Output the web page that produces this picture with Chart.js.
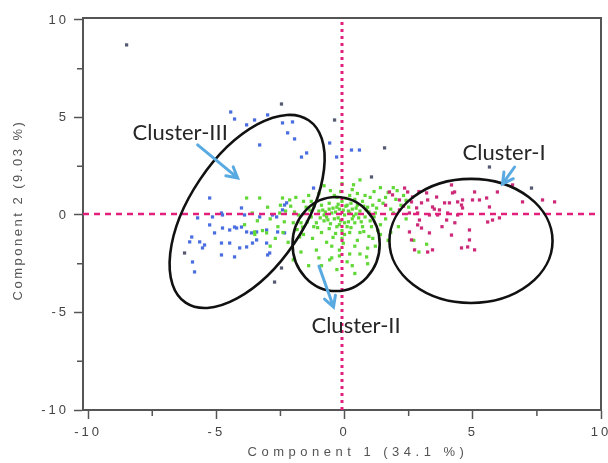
<!DOCTYPE html>
<html>
<head>
<meta charset="utf-8">
<script src="https://cdn.jsdelivr.net/npm/chart.js@4.4.1/dist/chart.umd.min.js"></script>
<style>
  body { margin: 0; background: #fff; }
</style>
</head>
<body>
<canvas id="pcaChart" width="608" height="463"></canvas>
<script>
// =========================
// DATA
// =========================
const xTicks = [-10, -5, 0, 5, 10];
const yTicks = [-10, -5, 0, 5, 10];
const minorTicks = [-7.5, -2.5, 2.5, 7.5];

const xTitle = "Component 1 (34.1 %)";
const yTitle = "Component 2 (9.03 %)";

// dashed reference lines
const refX = -0.1;
const refY = 0.05;

// Cluster-I (magenta)
const cluster1 = [
  [2.34,1.38],[2.46,1.18],[1.87,1.03],[2.14,0.77],[2.61,0.67],[2.81,0.36],[3.00,0.62],[3.24,0.77],[3.43,0.41],[3.70,0.26],
  [3.63,0.0],[3.90,0.62],[4.17,1.54],[4.29,1.18],[4.41,0.67],[4.56,0.51],[4.60,0.77],[4.99,0.77],[5.54,0.87],[5.65,0.41],
  [5.58,-0.36],[5.96,1.18],[6.04,-0.15],[4.41,0.0],[3.98,-0.26],[2.92,-0.26],[2.85,-0.51],[3.00,-0.67],[2.53,-0.87],[3.31,-0.92],
  [2.61,-1.28],[4.17,-1.03],[4.87,-0.77],[4.56,-1.69],[4.87,-1.28],[4.80,-1.64],[5.07,-1.79],[3.43,-1.79],[3.24,-1.90],[2.73,-1.79],
  [6.55,1.54],[6.94,0.67],[7.72,0.77],[8.19,0.67],[5.07,1.18],[5.26,0.77],[4.60,0.36],[4.09,0.62],[4.21,1.13],[3.59,0.92],
  [3.20,1.13],[2.65,0.92],[2.85,0.10],[2.53,0.10],[2.14,0.26],[3.31,0.0],[4.02,0.10],[5.77,-0.26],
  [1.75,1.18],[1.6,0.5],[2.3,0.45],[2.9,1.2],[3.5,0.3],[3.8,-0.6],[4.3,-0.4]
];

// Cluster-II (green)
const cluster2 = [
  [-0.2,0.3],[0.1,0.5],[-0.5,0.1],[0.3,-0.2],[-0.8,-0.3],[0.6,0.2],[-0.3,-0.6],[0.2,-0.9],[-1.0,0.2],[0.9,0.4],
  [-0.6,0.6],[0.4,0.8],[-1.3,-0.1],[1.2,0.1],[-0.1,-1.2],[0.7,-0.6],[-0.9,-0.9],[1.0,-0.3],[-1.5,0.4],[1.5,0.6],
  [-0.4,1.0],[0.0,0.0],[0.5,-1.3],[-0.7,-1.4],[-1.2,-0.6],[1.3,-0.8],[-1.8,0.0],[1.8,0.3],[-0.2,-1.8],[0.3,1.3],
  [-1.0,1.1],[0.8,1.0],[-2.0,-0.4],[2.0,0.8],[-1.6,-1.0],[1.6,-0.2],[-0.5,-2.2],[0.1,-2.4],[-1.1,-1.8],[0.9,-1.7],
  [-2.3,0.2],[2.3,1.0],[-2.6,-0.6],[2.5,0.4],[-2.9,-0.2],[-3.2,-0.8],[-3.6,0.1],[-3.9,-0.5],[-2.7,-1.2],[-2.2,-1.4],
  [1.4,1.4],[-0.1,1.6],[0.6,1.8],[-0.8,1.5],[2.1,-0.6],[1.1,-1.2],[-0.3,-2.8],[0.4,-3.0],[-1.4,-2.6],[0.0,-0.4],
  [-0.1,0.7],[0.2,0.1],[-0.4,-0.2],[0.5,0.5],[-0.7,-0.1],[0.8,-0.1],[-0.2,-0.5],[0.1,-0.6],[-0.6,0.3],[0.3,0.3],
  [-1.1,-0.4],[1.1,0.5],[-0.9,0.5],[0.6,-0.9],[-0.3,0.4],[0.0,-1.0],[-1.3,0.7],[1.0,0.9],[-0.5,-1.6],[0.4,-1.6],
  [2.7,-1.3],[3.2,-1.5],[2.9,-1.9],[-1.9,0.9],[-2.5,0.5],[-3.0,0.4],[-3.4,-0.3],[-1.7,-1.9],[-2.0,-2.3],[1.7,-1.3],
  [1.9,1.4],[2.4,-0.2],[-2.4,-0.9],[-1.4,1.0],[0.2,1.0],[-0.8,0.0],[0.7,0.7],[-0.1,-0.8],[1.4,-0.5],[-1.7,-0.4],
  [-0.6,-0.7],[0.4,-0.4],[-0.3,0.9],[1.2,-1.6],[-1.0,-2.2],[0.2,-2.0],[-2.9,-1.6],[-3.5,-1.0],[0.9,-2.5],
  [-3.82,0.87],[-3.31,0.87],[-2.42,0.87],[-3.51,-0.87],[-3.04,-0.92],[-2.53,0.10],[-2.14,0.77],[-1.95,0.15],[-1.75,-1.13],[-1.64,-0.62],
  [0.15,0.2],[-0.35,0.15],[0.45,0.05],[-0.15,-0.3],[0.25,0.6],[-0.55,-0.45],[0.65,-0.35],[-0.85,0.25],[0.95,0.15],[1.25,0.35],
  [1.6,0.9],[1.9,0.1],[2.2,0.5],[0.5,1.1],[-0.25,0.55],[0.05,0.85],[-1.2,0.45],[-1.45,-0.35],[0.75,0.45],[1.05,-0.6],
  [-0.58,-2.3],[0.86,-2.15],
  [-0.45,0.35],[0.35,-0.05],[-0.05,0.25],[0.55,-0.15],[-0.75,0.15],[0.85,0.25],[-0.25,-0.15],[0.15,-0.35],[-0.95,-0.15],[1.15,-0.1],
  [-0.65,-0.25],[0.45,0.35],[-1.05,-0.65],[0.25,-0.65],[-0.35,-0.95],[0.75,-0.85],[1.35,0.75],[-1.35,0.25],[0.05,0.45],[-0.15,1.2],
  [0.35,1.55],[1.7,1.15],[2.05,1.25],[2.4,0.75],[1.15,1.2],[-0.55,1.25],[-1.6,0.7],[-2.1,0.45],[-1.85,-0.75],[-2.35,-0.35],
  [0.6,-2.0],[-0.9,-2.6],[0.3,-2.6],[-0.2,-2.1],[1.4,-1.0],[1.8,-0.9],[-0.05,-1.45],[-0.45,-1.15],[0.95,-1.1],[-1.25,-1.2]
];

// Cluster-III (blue)
const cluster3 = [
  [-4.44,5.28],[-4.29,4.92],[-3.82,4.62],[-3.51,4.87],[-3.00,5.13],[-2.42,4.72],[-2.03,4.77],[-2.22,4.21],[-1.95,3.90],[-1.48,3.18],
  [-1.68,2.97],[-3.31,3.59],[-0.58,3.69],[-0.31,2.97],[-5.26,0.87],[-1.21,1.38],[0.27,3.33],[0.58,3.33],
  [-4.80,0.10],[-4.02,0.36],[-3.90,0.0],[-3.31,-0.10],[-2.81,0.0],[-2.42,0.26],[-2.26,0.62],[-5.73,-0.15],[-5.26,-0.51],[-5.07,-0.92],
  [-4.76,-0.67],[-4.48,-0.77],[-4.21,-0.67],[-4.02,-0.62],[-3.82,-0.87],[-3.63,-0.92],[-3.43,-0.87],[-3.04,-0.77],[-2.61,-0.87],[-2.34,-0.92],
  [-5.96,-1.13],[-6.04,-1.38],[-5.65,-1.38],[-5.54,-1.69],[-4.80,-1.44],[-4.48,-1.44],[-4.09,-1.69],[-3.82,-1.64],[-3.59,-1.44],[-3.43,-1.28],
  [-3.04,-1.44],[-3.00,-2.05],[-4.29,-2.15],[-4.80,-2.05],[-5.93,-2.41],[-5.85,-2.92],
  [-2.34,0.51],[-2.65,-0.10],[-2.92,-1.95],[-5.15,-0.10],[-4.76,0.0],[-4.29,-0.62],[-5.46,-1.54]
];

// scattered grey samples
const others = [
  [-8.5,8.72],[-2.46,5.69],[-0.39,4.87],[7.29,1.38],[-6.24,-1.95],[1.05,1.95],[-2.73,-3.44],[-2.46,-2.72],[5.65,2.46],[1.56,3.44]
];

// hand-drawn cluster outlines: centre (data), radii (x-units, y-units), rotation (deg)
const outlines = [
  { cx: 4.93, cy: -1.33, rx: 3.18, ry: 3.18, rot: 0 },
  { cx: -0.33, cy: -1.49, rx: 1.70, ry: 2.41, rot: 0 },
  { cx: -3.80, cy: 0.18, rx: 4.29, ry: 2.92, rot: -56 }
];

// labels + arrows (data coords)
const labels = [
  { text: "Cluster-I",   x: 4.60,  y: 3.18,  from: [6.63, 2.46],  to: [6.16, 1.59] },
  { text: "Cluster-II",  x: -1.29, y: -5.69, from: [-1.0, -2.62], to: [-0.43, -4.72] },
  { text: "Cluster-III", x: -8.27, y: 4.21,  from: [-5.73, 3.59], to: [-4.17, 1.90] }
];

const toPts = arr => arr.map(p => ({ x: p[0], y: p[1] }));

// =========================
// PLUGINS
// =========================
const decor = {
  id: "decor",
  beforeDraw(chart) {
    chart.ctx.letterSpacing = "3px";
  },
  afterDatasetsDraw(chart) {
    const { ctx, scales: { x, y } } = chart;
    const pxX = Math.abs(x.getPixelForValue(1) - x.getPixelForValue(0));
    const pxY = Math.abs(y.getPixelForValue(1) - y.getPixelForValue(0));
    ctx.save();
    ctx.strokeStyle = "#111";
    ctx.lineWidth = 2.6;
    outlines.forEach(o => {
      ctx.beginPath();
      ctx.ellipse(x.getPixelForValue(o.cx), y.getPixelForValue(o.cy),
        o.rx * pxX, o.ry * pxY, o.rot * Math.PI / 180, 0, Math.PI * 2);
      ctx.stroke();
    });

    // arrows
    ctx.strokeStyle = "#5aaae2";
    ctx.lineWidth = 3;
    ctx.lineCap = "round";
    labels.forEach(l => {
      const x1 = x.getPixelForValue(l.from[0]), y1 = y.getPixelForValue(l.from[1]);
      const x2 = x.getPixelForValue(l.to[0]), y2 = y.getPixelForValue(l.to[1]);
      const ang = Math.atan2(y2 - y1, x2 - x1);
      ctx.beginPath();
      ctx.moveTo(x1, y1);
      ctx.lineTo(x2, y2);
      ctx.moveTo(x2 - 12 * Math.cos(ang - 0.5), y2 - 12 * Math.sin(ang - 0.5));
      ctx.lineTo(x2, y2);
      ctx.lineTo(x2 - 12 * Math.cos(ang + 0.5), y2 - 12 * Math.sin(ang + 0.5));
      ctx.stroke();
    });

    // cluster labels
    ctx.letterSpacing = "0px";
    ctx.fillStyle = "#262626";
    ctx.font = "22px Lato, 'Open Sans', sans-serif";
    ctx.textAlign = "left";
    ctx.textBaseline = "middle";
    labels.forEach(l => {
      ctx.fillText(l.text, x.getPixelForValue(l.x), y.getPixelForValue(l.y));
    });
    ctx.restore();
  },
  afterDraw(chart) {
    const { ctx, chartArea: a, scales: { x, y } } = chart;
    ctx.save();
    // box frame (top + right)
    ctx.strokeStyle = "#555";
    ctx.lineWidth = 2;
    ctx.beginPath();
    ctx.moveTo(a.left, a.top);
    ctx.lineTo(a.right, a.top);
    ctx.lineTo(a.right, a.bottom);
    ctx.stroke();

    // minor ticks
    ctx.lineWidth = 1.5;
    ctx.beginPath();
    minorTicks.forEach(v => {
      const px = x.getPixelForValue(v);
      ctx.moveTo(px, a.bottom);
      ctx.lineTo(px, a.bottom + 6);
      const py = y.getPixelForValue(v);
      ctx.moveTo(a.left, py);
      ctx.lineTo(a.left - 6, py);
    });
    ctx.stroke();

    // axis titles
    ctx.fillStyle = "#555";
    ctx.font = "13px Arial, 'Liberation Sans', sans-serif";
    ctx.textAlign = "center";
    ctx.textBaseline = "middle";
    ctx.letterSpacing = "4.5px";
    ctx.fillText(xTitle, 358, 452);

    ctx.letterSpacing = "2.5px";
    ctx.translate(18, 210);
    ctx.rotate(-Math.PI / 2);
    ctx.fillText(yTitle, 0, 0);
    ctx.restore();
  }
};

// =========================
// CHART
// =========================
const tickFont = { family: "Arial, 'Liberation Sans', sans-serif", size: 13 };

new Chart(document.getElementById("pcaChart"), {
  type: "scatter",
  data: {
    datasets: [
      {
        type: "line",
        data: [{ x: refX, y: -10 }, { x: refX, y: 10.1 }],
        borderColor: "#e2207c",
        borderWidth: 3,
        borderDash: [3, 4],
        pointRadius: 0
      },
      {
        type: "line",
        data: [{ x: -10.2, y: refY }, { x: 10, y: refY }],
        borderColor: "#e2207c",
        borderWidth: 2.5,
        borderDash: [6, 5],
        pointRadius: 0
      },
      {
        label: "Cluster-I",
        data: toPts(cluster1),
        backgroundColor: "#cc2a78",
        pointStyle: "rect", pointRadius: 2.3, borderWidth: 0
      },
      {
        label: "Cluster-II",
        data: toPts(cluster2),
        backgroundColor: "#62d838",
        pointStyle: "rect", pointRadius: 2.3, borderWidth: 0
      },
      {
        label: "Cluster-III",
        data: toPts(cluster3),
        backgroundColor: "#4a6ee0",
        pointStyle: "rect", pointRadius: 2.3, borderWidth: 0
      },
      {
        label: "Other",
        data: toPts(others),
        backgroundColor: "#555a72",
        pointStyle: "rect", pointRadius: 2.3, borderWidth: 0
      }
    ]
  },
  options: {
    responsive: false,
    animation: false,
    layout: { padding: { top: 18, right: 7, left: 0, bottom: 0 } },
    plugins: {
      legend: { display: false },
      tooltip: { enabled: false }
    },
    scales: {
      x: {
        type: "linear",
        min: -10.2,
        max: 10,
        afterBuildTicks: s => { s.ticks = xTicks.map(v => ({ value: v })); },
        afterFit: s => { s.height = 53; s.paddingLeft = 0; s.paddingRight = 0; },
        ticks: {
          color: "#444",
          font: tickFont,
          padding: 6,
          maxRotation: 0,
          autoSkip: false,
          callback: v => String(v)
        },
        grid: { drawOnChartArea: false, tickLength: 9, tickColor: "#555", tickWidth: 1.5 },
        border: { color: "#555", width: 2 }
      },
      y: {
        type: "linear",
        min: -10,
        max: 10.1,
        afterBuildTicks: s => { s.ticks = yTicks.map(v => ({ value: v })); },
        afterFit: s => { s.width = 83; s.paddingTop = 0; s.paddingBottom = 0; },
        ticks: {
          color: "#444",
          font: tickFont,
          padding: 5,
          autoSkip: false,
          callback: v => String(v)
        },
        grid: { drawOnChartArea: false, tickLength: 9, tickColor: "#555", tickWidth: 1.5 },
        border: { color: "#555", width: 2 }
      }
    }
  },
  plugins: [decor]
});
</script>
</body>
</html>
